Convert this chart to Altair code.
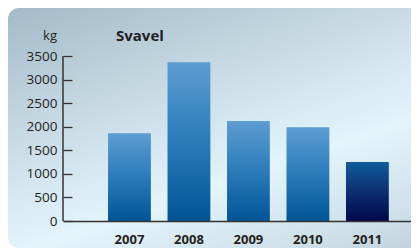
import altair as alt
import pandas as pd

years = ["2007", "2008", "2009", "2010", "2011"]
values = [1860, 3370, 2120, 1990, 1250]
y_ticks = [0, 500, 1000, 1500, 2000, 2500, 3000, 3500]
title_text = "Svavel"
unit_text = "kg"

df = pd.DataFrame({"year": years, "value": values})

W = 348
H = 165

bar_grad = alt.Gradient(
    gradient="linear",
    stops=[alt.GradientStop(color="#5d9dd2", offset=0),
           alt.GradientStop(color="#2f7fbd", offset=0.45),
           alt.GradientStop(color="#005496", offset=1)],
    x1=0, x2=0, y1=0, y2=1)
last_grad = alt.Gradient(
    gradient="linear",
    stops=[alt.GradientStop(color="#0f5c9c", offset=0),
           alt.GradientStop(color="#0c2f72", offset=0.5),
           alt.GradientStop(color="#00084a", offset=1)],
    x1=0, x2=0, y1=0, y2=1)
bg_grad = alt.Gradient(
    gradient="linear",
    stops=[alt.GradientStop(color="#a3bac8", offset=0),
           alt.GradientStop(color="#c7dae4", offset=0.3),
           alt.GradientStop(color="#e3f4fb", offset=0.57),
           alt.GradientStop(color="#cddfe7", offset=0.78),
           alt.GradientStop(color="#adc1cc", offset=1)],
    x1=0, y1=0, x2=0.79, y2=1.356)

xs = alt.X("year:N", sort=years, title=None,
           scale=alt.Scale(domain=years, paddingInner=0.28, paddingOuter=0.565, align=0.67),
           axis=alt.Axis(labelAngle=0, labelFont="Open Sans", labelFontWeight="bold",
                         labelFontSize=13, labelColor="#231f20", ticks=False, zindex=1,
                         labelPadding=12, domainColor="#333333", domainWidth=1.5))
ys = alt.Y("value:Q", title=None,
           scale=alt.Scale(domain=[0, 3500], nice=False),
           axis=alt.Axis(values=y_ticks, format="d", grid=False, domain=False, offset=-9,
                         zindex=1, tickSize=9, tickColor="#333333", tickWidth=1.3,
                         labelFont="Open Sans", labelFontSize=13.5, labelColor="#231f20",
                         labelPadding=6))

bg = alt.Chart(pd.DataFrame({"a": [0]})).mark_rect(color=bg_grad, cornerRadius=11).encode(
    x=alt.value(-55), x2=alt.value(W + 10), y=alt.value(-48), y2=alt.value(H + 27))

bars = alt.Chart(df).transform_filter(alt.datum.year != "2011").mark_bar(color=bar_grad).encode(
    x=xs, y=ys)
last = alt.Chart(df).transform_filter(alt.datum.year == "2011").mark_bar(color=last_grad).encode(
    x=xs, y=ys)

yline = alt.Chart(pd.DataFrame({"a": [0]})).mark_rule(color="#333333", strokeWidth=1.5).encode(
    x=alt.value(0), y=alt.value(0), y2=alt.value(H))

title = alt.Chart(pd.DataFrame({"t": [title_text]})).mark_text(
    font="Open Sans", fontWeight="bold", fontSize=15, color="#231f20",
    align="left", baseline="alphabetic").encode(
    text="t:N", x=alt.value(53), y=alt.value(-15))
unit = alt.Chart(pd.DataFrame({"t": [unit_text]})).mark_text(
    font="Open Sans", fontSize=13, color="#231f20",
    align="right", baseline="alphabetic").encode(
    text="t:N", x=alt.value(-6), y=alt.value(-16))

chart = alt.layer(bg, bars, last, yline, title, unit).properties(
    width=W, height=H,
    padding={"left": 55, "top": 48, "right": 0, "bottom": 27},
    autosize=alt.AutoSizeParams(type="none"),
    background="white",
).configure_view(stroke=None)

chart.save("out.html", embed_options={"renderer": "svg", "actions": False})
